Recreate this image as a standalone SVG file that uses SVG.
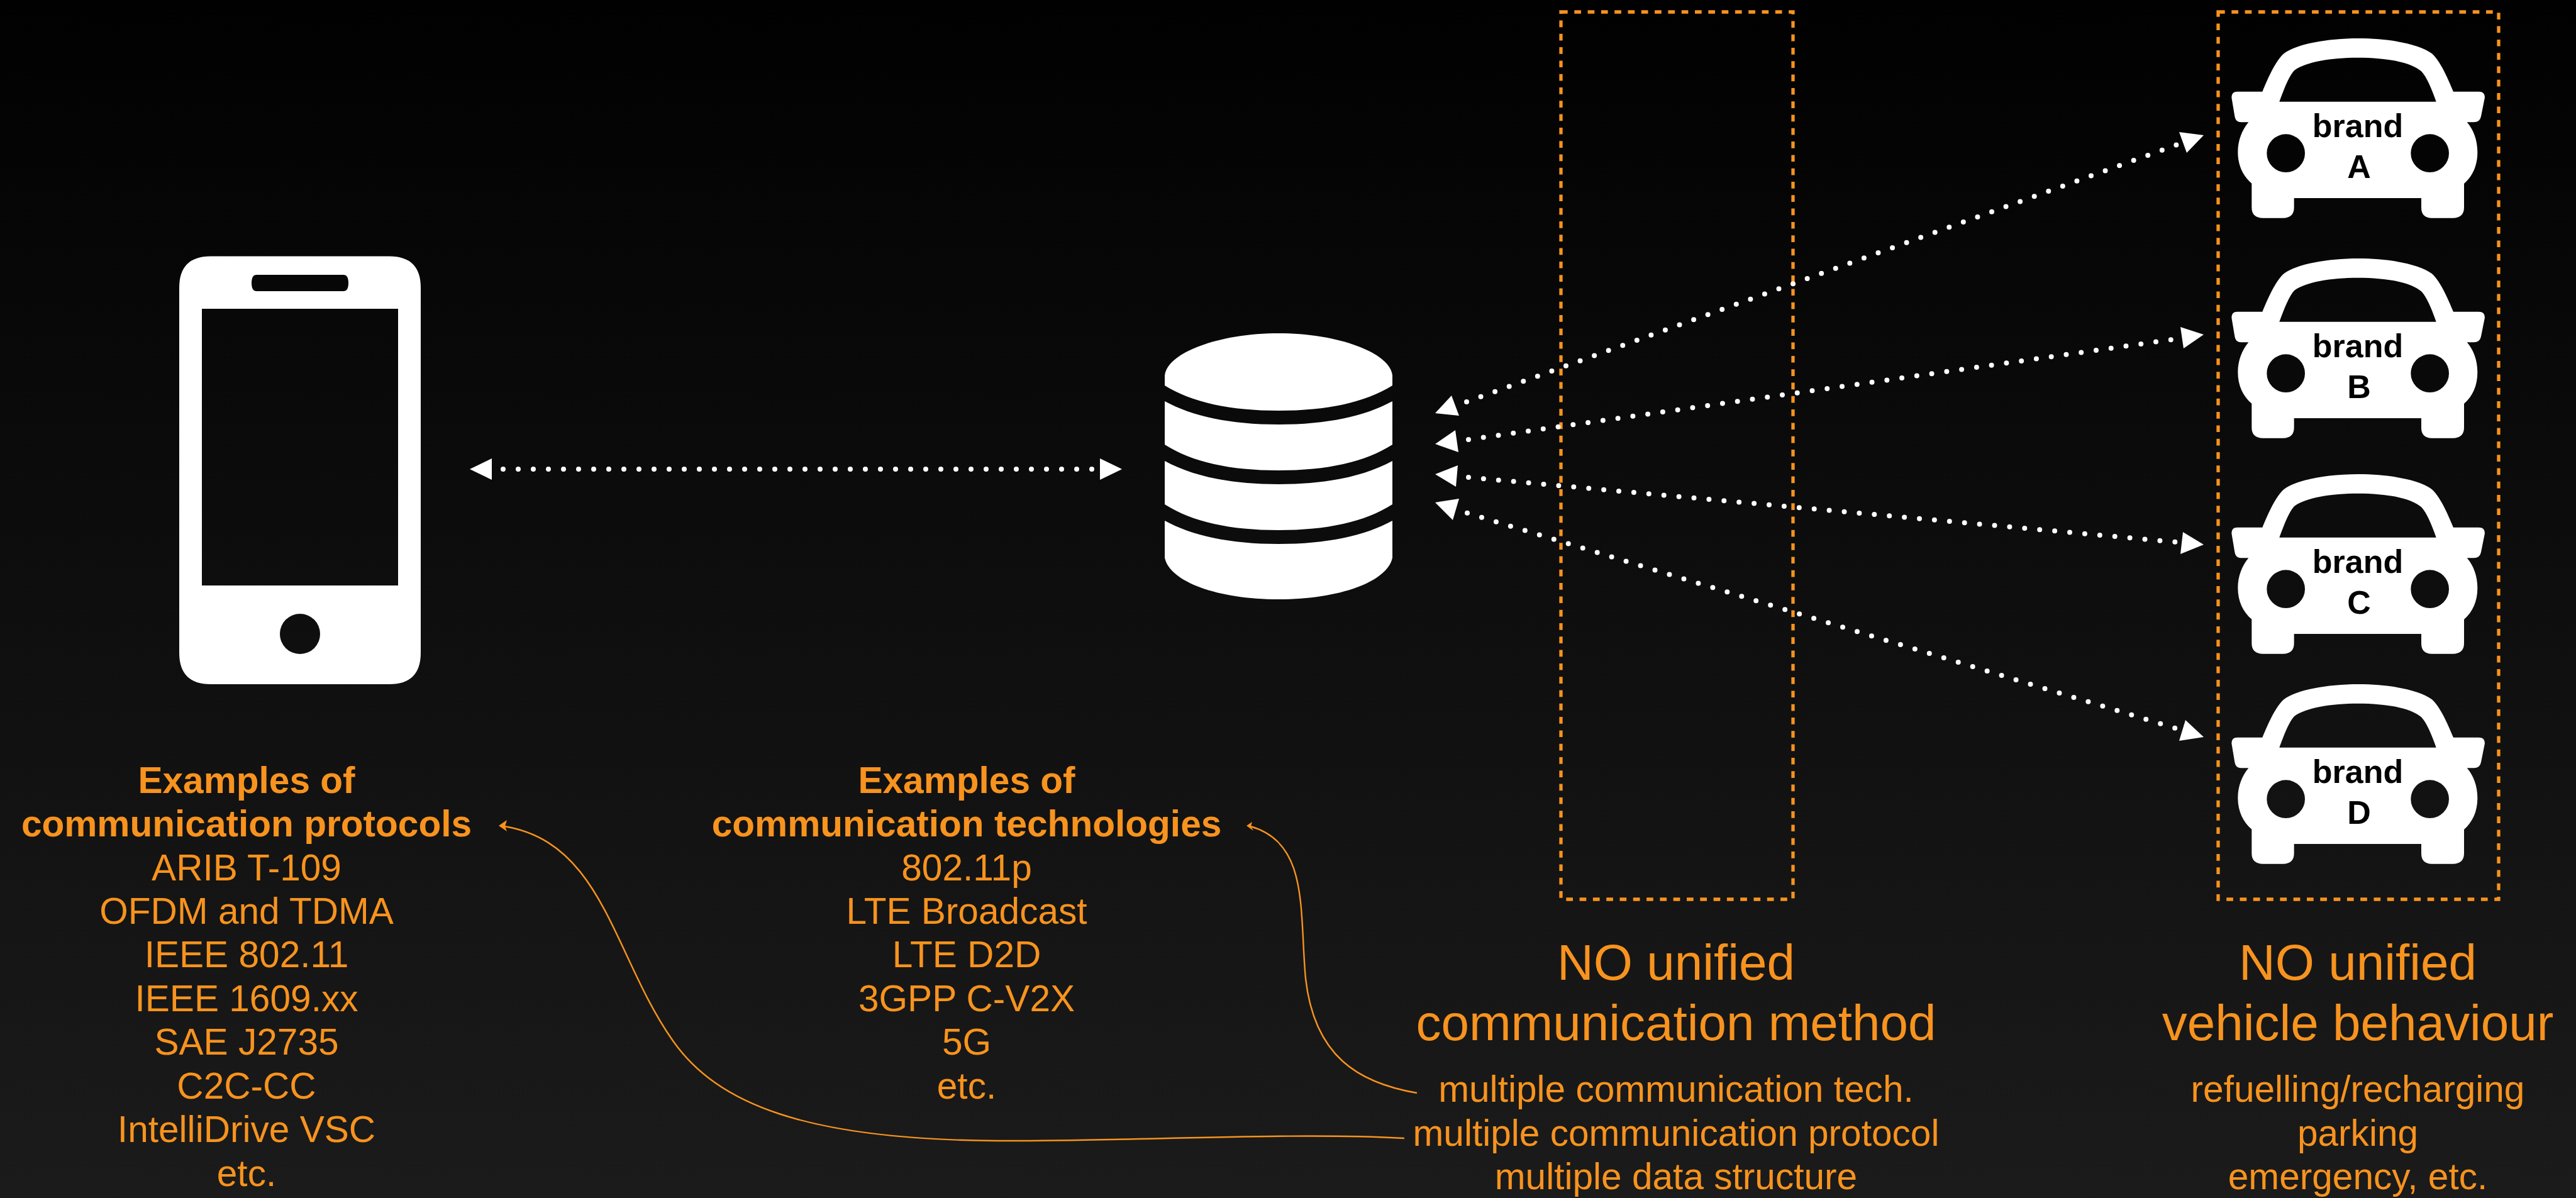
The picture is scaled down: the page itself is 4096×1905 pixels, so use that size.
<svg xmlns="http://www.w3.org/2000/svg" xmlns:xlink="http://www.w3.org/1999/xlink" width="4096" height="1905" viewBox="0 0 4096 1905">
<defs>
<linearGradient id="bg" x1="0" y1="0" x2="0" y2="1"><stop offset="0" stop-color="#010101"/><stop offset="1" stop-color="#1b1b1b"/></linearGradient>
<path id="carbody" fill-rule="evenodd" d="M749 183C900 183 1040 210 1100 255C1140 290 1175 370 1203 437L1325 437Q1353 437 1353 465L1335 555Q1330 583 1300 583L1268 583C1300 620 1318 670 1318 725C1318 790 1295 840 1254 876L1254 990Q1254 1040 1200 1040L1100 1040Q1050 1040 1050 990L1050 945L443 945L443 990Q443 1040 390 1040L295 1040Q241 1040 241 990L241 875C200 840 175 790 175 725C175 670 195 620 226 583L190 583Q165 583 160 555L145 465Q145 437 172 437L292 437C320 370 355 290 395 255C455 210 600 183 749 183ZM373 485L1121 485C1100 425 1075 365 1050 340C1000 295 880 275 747 275C620 275 500 295 445 335C420 360 395 425 373 485ZM313 731A91 91 0 1 0 495 731A91 91 0 1 0 313 731ZM1000 731A91 91 0 1 0 1182 731A91 91 0 1 0 1000 731Z"/>
</defs>
<style>
text{font-family:"Liberation Sans",Arial,sans-serif;text-anchor:middle}
.o{fill:#f7931e}
.h{font-size:58.6px;font-weight:700}
.s{font-size:58.6px}
.l{font-size:80px}
.b{font-size:52px;font-weight:700;fill:#000}
.w{fill:#fff}
.box{fill:none;stroke:#f7931e;stroke-width:5.3;stroke-dasharray:10.7 10.6}
.dot{fill:none;stroke:#fff;stroke-width:8;stroke-linecap:round;stroke-dasharray:0 24}
.cur{fill:none;stroke:#f7931e;stroke-width:2.4}
</style>
<rect width="4096" height="1905" fill="url(#bg)"/>
<g id="phone"><path class="w" fill-rule="evenodd" d="M335 407.500L619 407.500Q669 407.500 669 457.500L669 1038Q669 1088 619 1088L335 1088Q285 1088 285 1038L285 457.500Q285 407.500 335 407.500ZM321 491L321 931L633 931L633 491ZM408 437Q400 437 400 450Q400 463 408 463L546 463Q554 463 554 450Q554 437 546 437ZM445 1008A32 32 0 1 0 509 1008A32 32 0 1 0 445 1008Z"/></g>
<g id="database" class="w">
<path d="M1852 613L1852 597C1856 560 1940 530 2033 530C2126 530 2210 560 2214 597L2214 613C2170 640 2110 653 2033 653C1956 653 1896 640 1852 613Z"/>
<path d="M1852 638C1896 662 1956 675 2033 675C2110 675 2170 662 2214 638L2214 707C2170 735 2110 748 2033 748C1956 748 1896 735 1852 707Z"/>
<path d="M1852 733C1896 757 1956 770 2033 770C2110 770 2170 757 2214 733L2214 802C2170 830 2110 843 2033 843C1956 843 1896 830 1852 802Z"/>
<path d="M1852 828C1896 852 1956 865 2033 865C2110 865 2170 852 2214 828L2214 887C2206 925 2130 953 2033 953C1936 953 1860 925 1852 887Z"/>
</g>
<g id="box-method"><rect class="box" x="2482" y="19" width="369" height="1411"/></g>
<g id="box-vehicles"><rect class="box" x="3527" y="19" width="446" height="1411"/></g>
<g id="car-a"><use xlink:href="#carbody" class="w" transform="translate(3500 0) scale(.33333)"/><text class="b" x="3749" y="218">brand</text><text class="b" x="3751" y="283">A</text></g>
<g id="car-b"><use xlink:href="#carbody" class="w" transform="translate(3500 350) scale(.33333)"/><text class="b" x="3749" y="568">brand</text><text class="b" x="3751" y="633">B</text></g>
<g id="car-c"><use xlink:href="#carbody" class="w" transform="translate(3500 693) scale(.33333)"/><text class="b" x="3749" y="911">brand</text><text class="b" x="3751" y="976">C</text></g>
<g id="car-d"><use xlink:href="#carbody" class="w" transform="translate(3500 1027) scale(.33333)"/><text class="b" x="3749" y="1245">brand</text><text class="b" x="3751" y="1310">D</text></g>
<g id="connectors">
<path class="dot" d="M800 746L1738 746"/>
<path class="dot" d="M2332 639L3462 230"/>
<path class="dot" d="M2335 699L3453 540"/>
<path class="dot" d="M2335 759L3460 862"/>
<path class="dot" d="M2333 815.700L3459 1158"/>
<g class="w">
<polygon points="747,746 782,729 782,763"/><polygon points="1784,746 1749,729 1749,763"/>
<polygon points="2282,657 2308,629 2320,661"/><polygon points="2282,706 2314,684 2319,719"/><polygon points="2282,754 2318,740 2315,774"/><polygon points="2282,799 2320,793 2310,827"/>
<polygon points="3504,215 3465,210 3477,243"/><polygon points="3504,532 3467,520 3472,554"/><polygon points="3504,866 3471,846 3467,881"/><polygon points="3504,1172 3475,1145 3465,1178"/>
</g>
<path class="cur" d="M2253 1738C2160 1722 2090 1680 2076 1556C2066 1450 2082 1340 1988 1314"/>
<path class="cur" d="M2233 1810C2050 1800 1800 1815 1585 1814C1280 1812 1140 1755 1070 1655C975 1520 960 1340 802 1314"/>
<polygon class="o" points="1982,1313 1991,1307 1989,1314 1993,1321"/>
<polygon class="o" points="793,1313 806,1304 803,1314 806,1322"/>
</g>
<g id="label-protocols">
<text class="h o" x="392" y="1261">Examples of</text><text class="h o" x="392" y="1330">communication protocols</text>
<text class="s o" x="392" y="1400">ARIB T-109</text><text class="s o" x="392" y="1469">OFDM and TDMA</text><text class="s o" x="392" y="1538">IEEE 802.11</text><text class="s o" x="392" y="1608">IEEE 1609.xx</text><text class="s o" x="392" y="1677">SAE J2735</text><text class="s o" x="392" y="1747">C2C-CC</text><text class="s o" x="392" y="1816">IntelliDrive VSC</text><text class="s o" x="392" y="1886">etc.</text>
</g>
<g id="label-technologies">
<text class="h o" x="1537" y="1261">Examples of</text><text class="h o" x="1537" y="1330">communication technologies</text>
<text class="s o" x="1537" y="1400">802.11p</text><text class="s o" x="1537" y="1469">LTE Broadcast</text><text class="s o" x="1537" y="1538">LTE D2D</text><text class="s o" x="1537" y="1608">3GPP C-V2X</text><text class="s o" x="1537" y="1677">5G</text><text class="s o" x="1537" y="1747">etc.</text>
</g>
<g id="label-method">
<text class="l o" x="2665" y="1558">NO unified</text><text class="l o" x="2665" y="1654">communication method</text>
<text class="s o" x="2665" y="1752">multiple communication tech.</text><text class="s o" x="2665" y="1822">multiple communication protocol</text><text class="s o" x="2665" y="1891">multiple data structure</text>
</g>
<g id="label-vehicle">
<text class="l o" x="3749" y="1558">NO unified</text><text class="l o" x="3749" y="1654">vehicle behaviour</text>
<text class="s o" x="3749" y="1752">refuelling/recharging</text><text class="s o" x="3749" y="1822">parking</text><text class="s o" x="3749" y="1891">emergency, etc.</text>
</g>
</svg>
